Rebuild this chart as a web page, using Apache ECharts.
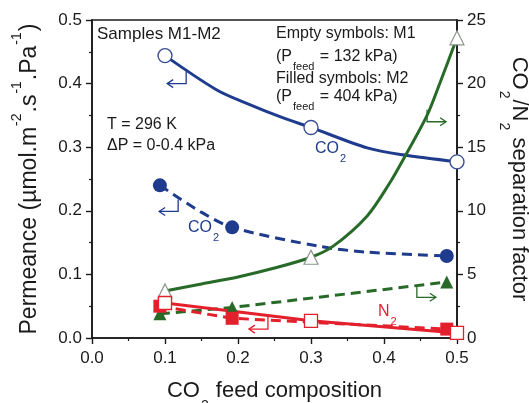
<!DOCTYPE html>
<html>
<head>
<meta charset="utf-8">
<script src="https://cdn.jsdelivr.net/npm/echarts@6/dist/echarts.min.js"></script>
<style>
html, body { margin: 0; padding: 0; background: #fff; }
#chart { width: 529px; height: 403px; }
</style>
</head>
<body>
<div id="chart"></div>
<script>
// x = CO2 feed composition of each measured point
var m1X = [0.1, 0.3, 0.5];
var m2X = [0.093, 0.192, 0.486];
// permeance (left axis)
var m1CO2 = [0.444, 0.331, 0.277];
var m2CO2 = [0.240, 0.174, 0.129];
var m1N2 = [0.055, 0.027, 0.008];
var m2N2 = [0.050, 0.031, 0.014];
// separation factor (right axis)
var m1Sep = [3.7, 6.35, 23.6];
var m2Sep = [1.9, 2.4, 4.4];

// fitted curves
var fitM1CO2X = [0.1, 0.171, 0.216, 0.262, 0.3, 0.377, 0.426, 0.5];
var fitM1CO2Y = [0.444, 0.390, 0.367, 0.346, 0.331, 0.299, 0.288, 0.277];
var fitM2CO2X = [0.093, 0.148, 0.192, 0.312, 0.377, 0.486];
var fitM2CO2Y = [0.240, 0.199, 0.174, 0.144, 0.135, 0.129];
var fitM1SepX = [0.1, 0.15, 0.2, 0.25, 0.3, 0.33, 0.377, 0.408, 0.426, 0.459, 0.477, 0.5];
var fitM1SepY = [3.7, 4.25, 4.8, 5.5, 6.35, 7.2, 9.6, 12.2, 14.0, 17.5, 20.1, 23.6];

// little "which axis" arrows (corner point, direction)
var arrowX = [0.129, 0.118, 0.241, 0.459, 0.445];
var arrowY = [0.400, 0.199, 0.014, 0.340, 0.064];
var arrowDir = [-1, -1, -1, 1, 1];

var BLUE = '#1f3b8e', RED = '#e3202c', GREEN = '#286a28', INK = '#1a1a1a';
var FONT = '"Liberation Sans", Arial, sans-serif';
var arrowColors = [BLUE, BLUE, RED, GREEN, GREEN];

function pairs(xs, ys) {
  return xs.map(function (x, i) { return [x, ys[i]]; });
}

var chart = echarts.init(document.getElementById('chart'), null, { renderer: 'canvas' });

var axisLine = { show: true, lineStyle: { color: INK, width: 1.6 } };
var axisTick = { show: true, inside: false, length: 6, lineStyle: { color: INK, width: 1.4 } };
var minorTick = { show: true, splitNumber: 2, length: 3, lineStyle: { color: INK, width: 1.2 } };
var tickFont = { color: INK, fontFamily: FONT, fontSize: 17 };

function nameRich(size) {
  return {
    m: { fontFamily: FONT, fontSize: size, lineHeight: size + 2, color: INK, verticalAlign: 'top', padding: [8, 0, 0, 0] },
    s: { fontFamily: FONT, fontSize: 14, lineHeight: 14, color: INK, verticalAlign: 'top', padding: [size + 5, 1, 0, 1] },
    u: { fontFamily: FONT, fontSize: 14, lineHeight: 14, color: INK, verticalAlign: 'top', padding: [0, 1, 0, 1] }
  };
}

function smallRich(size, color) {
  return {
    m: { fontFamily: FONT, fontSize: size, lineHeight: size + 2, fill: color, verticalAlign: 'top' },
    s: { fontFamily: FONT, fontSize: 11, lineHeight: 11, fill: color, verticalAlign: 'top', padding: [size - 4, 1, 0, 1] }
  };
}

function label(x, y, text, size, color, rich) {
  return {
    type: 'text', x: x, y: y, z: 50,
    style: {
      text: text, fill: color, font: size + 'px ' + FONT,
      verticalAlign: 'top', rich: rich ? smallRich(size, color) : undefined
    }
  };
}

var option = {
  backgroundColor: '#fff',
  animation: false,
  grid: {
    left: 92, right: 72, top: 20, bottom: 65,
    outerBoundsMode: 'none', containLabel: false,
    show: true, borderColor: INK, borderWidth: 1.6, backgroundColor: 'transparent'
  },
  xAxis: {
    type: 'value', min: 0, max: 0.5, interval: 0.1,
    axisLine: axisLine, axisTick: axisTick, minorTick: minorTick,
    splitLine: { show: false },
    axisLabel: Object.assign({ margin: 12, formatter: function (v) { return v.toFixed(1); } }, tickFont),
    name: '{m|CO}{s|2}{m| feed composition}',
    nameLocation: 'middle', nameGap: 33,
    nameTextStyle: { rich: nameRich(22) }
  },
  yAxis: [{
    type: 'value', position: 'left', min: 0, max: 0.5, interval: 0.1,
    axisLine: axisLine, axisTick: axisTick, minorTick: minorTick,
    splitLine: { show: false },
    axisLabel: Object.assign({ margin: 10, formatter: function (v) { return v.toFixed(1); } }, tickFont),
    name: '{m|Permeance (\u00b5mol.m}{u|-2}{m|.s}{u|-1}{m|.Pa}{u|-1}{m|)}',
    nameLocation: 'middle', nameRotate: 90, nameGap: 57,
    nameTextStyle: { rich: nameRich(23) }
  }, {
    type: 'value', position: 'right', min: 0, max: 25, interval: 5,
    axisLine: axisLine, axisTick: axisTick, minorTick: minorTick,
    splitLine: { show: false },
    axisLabel: Object.assign({ margin: 10 }, tickFont),
    name: '{m|CO}{s|2}{m|/N}{s|2}{m| separation factor}',
    nameLocation: 'middle', nameRotate: -90, nameGap: 50,
    nameTextStyle: { rich: nameRich(22) }
  }],
  graphic: [
    label(97, 26, 'Samples M1-M2', 17, INK),
    label(107, 117, 'T = 296 K', 16, INK),
    label(107, 138, '\u0394P = 0-0.4 kPa', 16, INK),
    label(276, 26, 'Empty symbols: M1', 16, INK),
    label(276, 49, '{m|(P}{s|feed}{m| = 132 kPa)}', 16, INK, true),
    label(276, 71, 'Filled symbols: M2', 16, INK),
    label(276, 89, '{m|(P}{s|feed}{m| = 404 kPa)}', 16, INK, true),
    label(315, 141, '{m|CO}{s|2}', 16, BLUE, true),
    label(188, 220, '{m|CO}{s|2}', 16, BLUE, true),
    label(378, 304, '{m|N}{s|2}', 16, RED, true)
  ],
  series: [
    // fitted / connecting curves
    { type: 'line', yAxisIndex: 0, data: pairs(fitM1CO2X, fitM1CO2Y), smooth: 0.3, showSymbol: false,
      lineStyle: { color: BLUE, width: 3 }, z: 2 },
    { type: 'line', yAxisIndex: 0, data: pairs(fitM2CO2X, fitM2CO2Y), smooth: 0.3, showSymbol: false,
      lineStyle: { color: BLUE, width: 3, type: [10, 6] }, z: 2 },
    { type: 'line', yAxisIndex: 1, data: pairs(fitM1SepX, fitM1SepY), smooth: 0.3, showSymbol: false,
      lineStyle: { color: GREEN, width: 3 }, z: 2 },
    { type: 'line', yAxisIndex: 1, data: pairs(m2X, m2Sep), showSymbol: false,
      lineStyle: { color: GREEN, width: 3, type: [10, 6] }, z: 2 },
    { type: 'line', yAxisIndex: 0, data: pairs(m1X, m1N2), showSymbol: false,
      lineStyle: { color: RED, width: 3 }, z: 2 },
    { type: 'line', yAxisIndex: 0, data: pairs(m2X, m2N2), showSymbol: false,
      lineStyle: { color: RED, width: 3, type: [10, 6] }, z: 2 },
    // markers
    { type: 'scatter', yAxisIndex: 1, data: pairs(m2X, m2Sep), symbol: 'triangle', symbolSize: 13, clip: false,
      itemStyle: { color: GREEN, opacity: 1 }, z: 4 },
    { type: 'scatter', yAxisIndex: 1, data: pairs(m1X, m1Sep), symbol: 'triangle', symbolSize: 14, clip: false,
      itemStyle: { color: '#fff', borderColor: '#8a968a', borderWidth: 1.2, opacity: 1 }, z: 4 },
    { type: 'scatter', yAxisIndex: 0, data: pairs(m2X, m2N2), symbol: 'rect', symbolSize: 13, clip: false,
      itemStyle: { color: RED, opacity: 1 }, z: 5 },
    { type: 'scatter', yAxisIndex: 0, data: pairs(m1X, m1N2), symbol: 'rect', symbolSize: 13, clip: false,
      itemStyle: { color: '#fff', borderColor: RED, borderWidth: 1.3, opacity: 1 }, z: 5 },
    { type: 'scatter', yAxisIndex: 0, data: pairs(m2X, m2CO2), symbol: 'circle', symbolSize: 14, clip: false,
      itemStyle: { color: BLUE, opacity: 1 }, z: 5 },
    { type: 'scatter', yAxisIndex: 0, data: pairs(m1X, m1CO2), symbol: 'circle', symbolSize: 14, clip: false,
      itemStyle: { color: '#fff', borderColor: '#3b4f98', borderWidth: 1.4, opacity: 1 }, z: 5 },
    // axis pointer arrows
    {
      type: 'custom', yAxisIndex: 0, clip: false, z: 6,
      data: arrowX.map(function (x, i) { return [x, arrowY[i], arrowDir[i]]; }),
      renderItem: function (params, api) {
        var p = api.coord([api.value(0), api.value(1)]);
        var d = api.value(2);
        var c = arrowColors[params.dataIndex];
        var st = { stroke: c, lineWidth: 1.3, fill: null };
        return {
          type: 'group',
          children: [
            { type: 'polyline', shape: { points: [[p[0], p[1] - 12], [p[0], p[1]], [p[0] + d * 19, p[1]]] }, style: st },
            { type: 'polyline', shape: { points: [[p[0] + d * 13, p[1] - 4], [p[0] + d * 19, p[1]], [p[0] + d * 13, p[1] + 4]] }, style: st }
          ]
        };
      }
    }
  ]
};

chart.setOption(option);
</script>
</body>
</html>
